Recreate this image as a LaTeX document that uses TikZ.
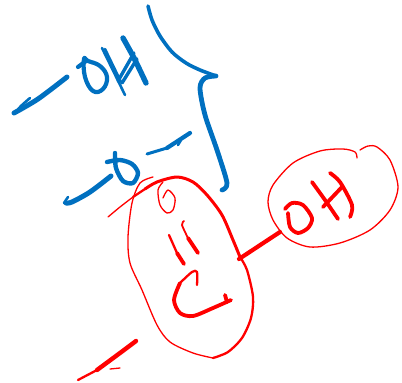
\documentclass[tikz,border=0pt]{standalone}
\definecolor{inkblue}{HTML}{0070C0}
\definecolor{inkred}{HTML}{FF0000}
\begin{document}
\begin{tikzpicture}[%
    x = 1pt, y = -1pt,
    line cap = round, line join = round,
    bluepen/.style = {draw=inkblue, line width=5pt},
    bluefine/.style = {draw=inkblue, line width=2.6pt},
    redpen/.style = {draw=inkred, line width=3.8pt},
    redfine/.style = {draw=inkred, line width=1.3pt},
    redmid/.style = {draw=inkred, line width=2.3pt}%
  ]
    \useasboundingbox (0,0) rectangle (402,383);

    % upper group
    \draw[bluepen] plot[smooth] coordinates {(14,113) (38,99) (67,77)};
    \draw[bluefine] plot[smooth] coordinates {(15,113) (21,106) (30,98)};
    \draw[bluepen, line width=4.2pt] plot[smooth cycle, tension=0.7] coordinates {(84,59) (85,77) (93,91) (103,89) (107,77) (100,66) (88,61)};
    \draw[bluepen, line width=4.2pt] (78,67) -- (86,61);
    \draw[bluefine] (102,48) -- (125,95);
    \draw[bluefine] (105,49) -- (121,82);
    \draw[bluepen, line width=5.4pt] plot[smooth] coordinates {(123,38) (134,58) (146,83)};
    \draw[bluepen, line width=3.4pt] (118,81) -- (134,53);
    \draw[bluepen, line width=3.4pt] (122,83) -- (137,59);

    % brace
    \draw[bluepen, line width=3.6pt] plot[smooth] coordinates {(148,6) (152,20) (160,36) (172,52) (186,63) (200,70) (216,76)};
    \draw[bluepen, line width=4.8pt] plot[smooth] coordinates {(216,76) (205,78) (200,88) (205,115) (217,150) (227,183) (222,190)};

    % lower group
    \draw[bluepen] plot[smooth] coordinates {(66,203) (72,202) (90,192) (111,176)};
    \draw[bluefine] (64,203) -- (68,197);
    \draw[bluepen, line width=4.4pt] plot[smooth] coordinates {(115,153) (116,168) (123,181) (133,183) (138,173) (132,164) (120,160) (107,162)};
    \draw[bluepen, line width=3pt] (147,154) -- (167,148);
    \draw[bluepen, line width=4.2pt] (167,148) -- (190,133);
    \draw[bluefine] (178,145) -- (181,140);

    % ring
    \draw[redfine] plot[smooth] coordinates {(108,217) (120,207) (133,197)};
    \draw[redmid] (133,197) -- (145,189);
    \draw[redpen, line width=3pt] plot[smooth] coordinates {(145,189) (157,182) (177,177) (193,182) (207,195) (222,215) (233,240) (240,257)};
    \draw[redmid] plot[smooth] coordinates {(240,257) (247,270) (253,297) (251,318) (242,338) (228,352) (213,358)};
    \draw[redfine] plot[smooth] coordinates {(213,358) (193,353) (170,342) (157,325) (142,290) (130,263) (128,237) (132,203) (140,183) (153,177)};

    % small o above the ring
    \draw[redfine] plot[smooth] coordinates {(163,198) (168,190) (175,198) (173,210) (167,213) (160,205) (158,190) (163,182)};

    % double bond
    \draw[redmid] (169,235) -- (177,253);
    \draw[redpen] (177,253) -- (184,264);
    \draw[redfine, line width=1.8pt] plot[smooth] coordinates {(184,221) (182,225) (188,238)};
    \draw[redpen] (188,238) -- (198,253);

    % C
    \draw[redmid] plot[smooth] coordinates {(197,285) (197,272) (192,272) (180,283)};
    \draw[redpen] plot[smooth] coordinates {(180,283) (174,300) (180,313) (193,316) (213,308) (231,300)};
    \draw[redpen] (225,295) -- (227,302);

    % bond to the OH circle
    \coordinate (ringedge) at (239,259);
    \coordinate (circleedge) at (280,232);
    \draw[redpen, line width=4.2pt] (ringedge) -- (circleedge);

    % OH circle
    \draw[redfine] plot[smooth] coordinates {(357,158) (355,152) (343,149) (320,151) (293,163) (273,185) (268,202) (273,220) (287,238) (310,247) (340,243) (370,230) (390,210) (398,187) (390,160) (377,147) (368,146) (360,150)};
    \draw[redpen] plot[smooth] coordinates {(285,209) (292,203) (303,205) (312,218) (308,228) (298,233) (290,227) (288,213)};
    \draw[redpen] plot[smooth] coordinates {(312,182) (325,200) (338,219)};
    \draw[redpen] plot[smooth] coordinates {(330,173) (340,182) (352,205) (350,217)};
    \draw[redpen] (323,207) -- (342,187);

    % lower dash
    \draw[redmid] (78,380) -- (97,370);
    \draw[redpen, line width=4.4pt] plot[smooth] coordinates {(97,370) (120,353) (136,341)};
    \draw[redfine] (110,369) -- (120,368);
  \end{tikzpicture}
\end{document}
